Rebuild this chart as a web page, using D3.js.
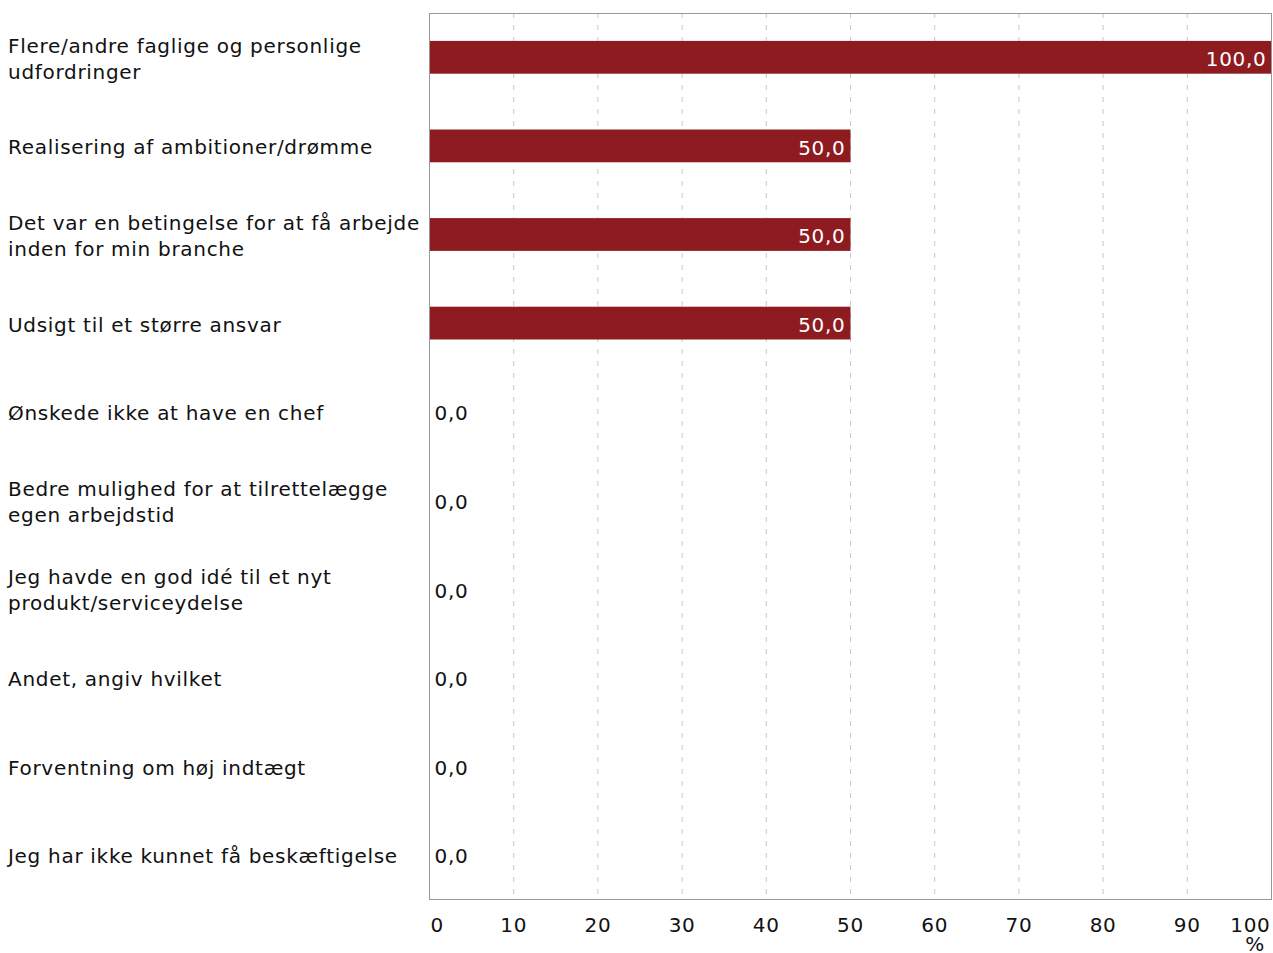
<!DOCTYPE html>
<html>
<head>
<meta charset="utf-8">
<script src="https://cdn.jsdelivr.net/npm/d3@7"></script>
<style>
  body { margin: 0; background: #fff; }
  text { font-family: "DejaVu Sans", Verdana, sans-serif; letter-spacing: 0.7px; }
</style>
</head>
<body>
<script>
// categories, top to bottom ("\n" marks a line break in the label)
const categories = [
    "Flere/andre faglige og personlige\nudfordringer",
    "Realisering af ambitioner/drømme",
    "Det var en betingelse for at få arbejde\ninden for min branche",
    "Udsigt til et større ansvar",
    "Ønskede ikke at have en chef",
    "Bedre mulighed for at tilrettelægge\negen arbejdstid",
    "Jeg havde en god idé til et nyt\nprodukt/serviceydelse",
    "Andet, angiv hvilket",
    "Forventning om høj indtægt",
    "Jeg har ikke kunnet få beskæftigelse"
];
const values = [100, 50, 50, 50, 0, 0, 0, 0, 0, 0];
const xTicks = [0, 10, 20, 30, 40, 50, 60, 70, 80, 90, 100];
const unitLabel = "%";

const width = 1273, height = 953;
const margin = { top: 13, right: 1, bottom: 54, left: 429.5 };
const fontSize = 20;
const barColor = "#8e1b20";

const svg = d3.select("body").append("svg")
    .attr("width", width)
    .attr("height", height);

const x = d3.scaleLinear()
    .domain([0, 100])
    .range([margin.left, width - margin.right - 0.5]);

const y = d3.scaleBand()
    .domain(categories)
    .range([margin.top, height - margin.bottom])
    .paddingInner(0.63)
    .paddingOuter(0.315);

const fmt = v => d3.format(".1f")(v).replace(".", ",");

// dashed vertical gridlines
svg.append("g")
    .selectAll("line")
    .data(xTicks.slice(1, -1))
    .join("line")
    .attr("x1", d => x(d)).attr("x2", d => x(d))
    .attr("y1", margin.top).attr("y2", height - margin.bottom)
    .attr("stroke", "#c8c8c8")
    .attr("stroke-width", 1)
    .attr("stroke-dasharray", "5,7");

// bars
svg.append("g")
    .selectAll("rect")
    .data(values)
    .join("rect")
    .attr("x", x(0))
    .attr("y", (d, i) => y(categories[i]))
    .attr("width", d => x(d) - x(0))
    .attr("height", y.bandwidth())
    .attr("fill", barColor);

// frame
svg.append("rect")
    .attr("x", margin.left)
    .attr("y", margin.top + 0.5)
    .attr("width", x(100) - margin.left)
    .attr("height", height - margin.bottom - margin.top)
    .attr("fill", "none")
    .attr("stroke", "#999")
    .attr("stroke-width", 1);

// value labels
svg.append("g")
    .selectAll("text")
    .data(values)
    .join("text")
    .attr("x", d => d > 0 ? x(d) - 5 : x(0) + 5)
    .attr("y", (d, i) => y(categories[i]) + y.bandwidth() / 2 + 1.5)
    .attr("dy", "0.36em")
    .attr("text-anchor", d => d > 0 ? "end" : "start")
    .attr("fill", d => d > 0 ? "#fff" : "#111")
    .style("font-size", fontSize + "px")
    .text(d => fmt(d));

// category labels
const lineH = 26;
svg.append("g")
    .selectAll("text")
    .data(categories)
    .join("text")
    .attr("x", 8)
    .attr("y", d => y(d) + y.bandwidth() / 2)
    .attr("fill", "#111")
    .style("font-size", fontSize + "px")
    .each(function (d) {
        const lines = d.split("\n");
        const t = d3.select(this);
        lines.forEach((l, i) => {
            t.append("tspan")
                .attr("x", 8)
                .attr("dy", i === 0 ? ((-(lines.length - 1) / 2) * lineH + 8.5) : lineH)
                .text(l);
        });
    });

// x-axis tick labels
svg.append("g")
    .selectAll("text")
    .data(xTicks)
    .join("text")
    .attr("x", (d, i) => i === 0 ? x(d) + 1 : (i === xTicks.length - 1 ? x(d) - 1 : x(d)))
    .attr("y", 932)
    .attr("text-anchor", (d, i) => i === 0 ? "start" : (i === xTicks.length - 1 ? "end" : "middle"))
    .attr("fill", "#111")
    .style("font-size", fontSize + "px")
    .text(d => d);

svg.append("text")
    .attr("x", 1255)
    .attr("y", 951)
    .attr("text-anchor", "middle")
    .attr("fill", "#111")
    .style("font-size", fontSize + "px")
    .text(unitLabel);
</script>
</body>
</html>
